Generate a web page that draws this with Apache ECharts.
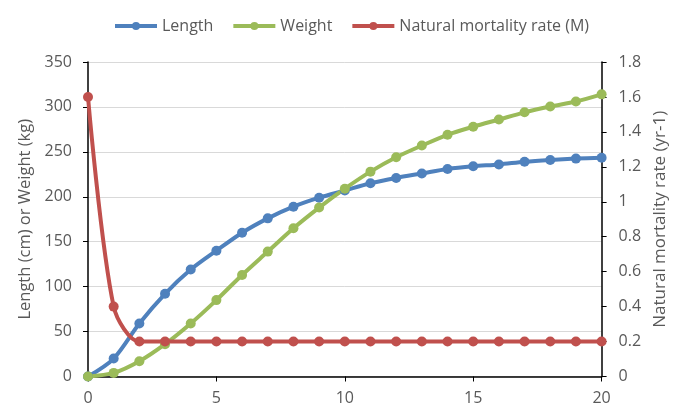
<!DOCTYPE html>
<html><head><meta charset="utf-8">
<script src="https://cdn.jsdelivr.net/npm/echarts@6/dist/echarts.min.js"></script>
<style>html,body{margin:0;padding:0;background:#fff}#c{width:677px;height:417px}</style>
</head><body><div id="c"></div>
<script>
var ages = [0,1,2,3,4,5,6,7,8,9,10,11,12,13,14,15,16,17,18,19,20];
var lengthCm = [0,20,59,92,119,140,160,176,189,199,207,215,221,226,231,234,236,239,241,242.5,243.5];
var weightKg = [0,4,17,36,59,85,113,139,165,188,209,228,244,257,269,278,286,294,300.5,306,314];
var mortality = [1.6,0.4,0.2,0.2,0.2,0.2,0.2,0.2,0.2,0.2,0.2,0.2,0.2,0.2,0.2,0.2,0.2,0.2,0.2,0.2,0.2];
var leftTicks = {min:0,max:350,interval:50};
var rightTicks = {min:0,max:1.8,interval:0.2};

function pairs(xs, ys){ return xs.map(function(x,i){return [x, ys[i]];}); }

var txt = '#595959';
var font = 'Open Sans';
var chart = echarts.init(document.getElementById('c'));
chart.setOption({
  animation:false,
  textStyle:{fontFamily:font},
  legend:{
    top:13, left:108, itemWidth:42, itemHeight:10, itemGap:18,
    lineStyle:{width:4},
    textStyle:{color:txt,fontSize:16,fontFamily:font},
    data:['Length','Weight','Natural mortality rate (M)']
  },
  grid:{left:88,right:72,top:62,bottom:40.5},
  xAxis:{
    type:'value', min:0, max:20, interval:5,
    axisLine:{lineStyle:{color:'#000',width:1.5}},
    axisTick:{show:true,length:5,lineStyle:{color:'#000'}},
    axisLabel:{color:txt,fontSize:16,margin:14},
    splitLine:{show:false}
  },
  yAxis:[{
    type:'value', min:leftTicks.min, max:leftTicks.max, interval:leftTicks.interval,
    name:'Length (cm) or Weight (kg)', nameLocation:'middle', nameGap:51,
    nameTextStyle:{color:txt,fontSize:16.5},
    axisLine:{show:true,lineStyle:{color:'#000',width:1.5}},
    axisTick:{show:true,length:5,lineStyle:{color:'#000'}},
    axisLabel:{color:txt,fontSize:16,margin:16},
    splitLine:{lineStyle:{color:'#d9d9d9',width:1}}
  },{
    type:'value', min:rightTicks.min, max:rightTicks.max, interval:rightTicks.interval,
    name:'Natural mortality rate (yr-1)', nameLocation:'middle', nameGap:48, nameRotate:90,
    nameTextStyle:{color:txt,fontSize:17},
    axisLine:{show:true,lineStyle:{color:'#000',width:1.5}},
    axisTick:{show:true,length:5,lineStyle:{color:'#000'}},
    axisLabel:{color:txt,fontSize:16,margin:17},
    splitLine:{show:false}
  }],
  series:[{
    name:'Length', type:'line', yAxisIndex:0, smooth:0.3,
    data:pairs(ages,lengthCm), symbol:'circle', symbolSize:10,
    itemStyle:{color:'#4F81BD'}, lineStyle:{width:4,color:'#4F81BD'}
  },{
    name:'Weight', type:'line', yAxisIndex:0, smooth:0.3,
    data:pairs(ages,weightKg), symbol:'circle', symbolSize:10,
    itemStyle:{color:'#9BBB59'}, lineStyle:{width:4,color:'#9BBB59'}
  },{
    name:'Natural mortality rate (M)', type:'line', yAxisIndex:1, smooth:0.3,
    data:pairs(ages,mortality), symbol:'circle', symbolSize:10,
    itemStyle:{color:'#C0504D'}, lineStyle:{width:4,color:'#C0504D'}
  }]
});
</script></body></html>
